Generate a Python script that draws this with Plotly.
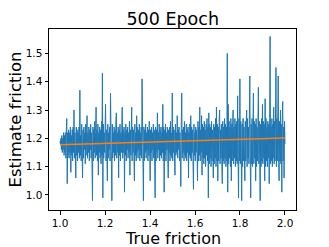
import numpy as np
import plotly.graph_objects as go

# True friction grid (evenly spaced from 1.0 to 2.0)
x_start, x_end = 1.0, 2.0

# Estimated friction values
est_friction = [
    1.19, 1.18, 1.20, 1.16, 1.21, 1.15, 1.20, 1.16, 1.22, 1.14,
    1.21, 1.15, 1.22, 1.13, 1.23, 1.27, 1.04, 1.22, 1.14, 1.23,
    1.13, 1.22, 1.15, 1.24, 1.08, 1.21, 1.14, 1.23, 1.12, 1.24,
    1.15, 1.30, 1.13, 1.22, 1.16, 1.06, 1.24, 1.14, 1.23, 1.12,
    1.22, 1.15, 1.24, 1.13, 1.37, 1.14, 1.21, 1.12, 1.25, 1.15,
    1.06, 1.23, 1.13, 1.24, 1.16, 1.22, 1.11, 1.25, 1.14, 1.23,
    1.28, 1.13, 1.22, 1.15, 1.24, 1.12, 1.23, 1.16, 1.25, 1.13,
    1.22, 1.14, 0.98, 1.24, 1.12, 1.23, 1.15, 1.26, 1.13, 1.22,
    1.31, 1.14, 1.23, 1.12, 1.25, 1.07, 1.22, 1.15, 1.24, 1.13,
    1.23, 1.11, 1.26, 1.14, 1.43, 0.99, 1.25, 1.13, 1.22, 1.15,
    1.24, 1.32, 1.12, 1.23, 1.14, 1.05, 1.25, 1.13, 1.22, 1.16,
    1.24, 1.12, 1.36, 1.14, 1.23, 0.98, 1.25, 1.13, 1.22, 1.15,
    1.24, 1.12, 1.23, 1.14, 1.26, 1.29, 1.13, 1.22, 1.15, 1.24,
    1.06, 1.23, 1.14, 1.25, 1.12, 1.22, 1.15, 1.24, 1.31, 1.13,
    1.23, 1.15, 1.24, 1.01, 1.22, 1.14, 1.25, 1.12, 1.23, 1.16,
    1.24, 1.13, 1.22, 1.15, 1.26, 1.07, 1.23, 1.14, 1.22, 1.31,
    1.12, 1.24, 1.15, 1.23, 1.13, 1.05, 1.25, 1.14, 1.22, 1.12,
    1.28, 1.15, 1.24, 1.13, 1.23, 1.16, 1.25, 1.12, 1.22, 1.14,
    1.24, 1.13, 1.41, 1.15, 1.22, 0.98, 1.24, 1.12, 1.23, 1.15,
    1.25, 1.13, 1.22, 1.16, 1.24, 1.12, 1.23, 1.14, 1.26, 1.13,
    1.05, 1.23, 1.15, 1.24, 1.12, 1.22, 1.16, 1.25, 1.13, 1.23,
    1.14, 0.99, 1.24, 1.12, 1.23, 1.15, 1.29, 1.13, 1.22, 1.16,
    1.25, 1.12, 1.23, 1.14, 1.24, 1.13, 1.22, 1.15, 1.32, 1.12,
    1.24, 1.01, 1.23, 1.14, 1.25, 1.12, 1.22, 1.16, 1.24, 1.13,
    1.06, 1.23, 1.15, 1.24, 1.12, 1.26, 1.14, 1.22, 1.13, 1.36,
    1.12, 1.24, 1.15, 1.23, 1.13, 1.07, 1.25, 1.14, 1.22, 1.15,
    1.28, 1.13, 1.23, 1.16, 1.24, 1.12, 1.22, 1.14, 1.03, 1.25,
    1.36, 1.13, 1.23, 1.15, 1.24, 1.12, 1.26, 1.14, 1.22, 1.13,
    1.25, 1.12, 1.23, 1.15, 1.24, 1.06, 1.22, 1.14, 1.25, 1.13,
    1.28, 1.12, 1.24, 1.15, 1.23, 1.13, 1.02, 1.25, 1.14, 1.22,
    1.12, 1.24, 1.15, 1.23, 1.13, 1.05, 1.26, 1.12, 1.24, 1.14,
    1.31, 1.12, 1.23, 1.15, 1.28, 1.07, 1.25, 1.13, 1.24, 1.11,
    1.26, 1.13, 1.23, 1.10, 1.25, 1.14, 1.27, 1.12, 1.24, 0.99,
    1.29, 1.11, 1.25, 1.13, 1.24, 1.10, 1.26, 1.12, 1.23, 1.14,
    1.06, 1.25, 1.11, 1.24, 1.13, 1.27, 1.10, 1.31, 1.12, 1.25,
    1.05, 1.24, 1.12, 1.26, 1.30, 1.11, 1.23, 1.13, 1.25, 1.10,
    1.04, 1.26, 1.12, 1.24, 1.11, 1.27, 1.13, 1.25, 1.10, 1.24,
    1.12, 1.50, 1.01, 1.32, 1.11, 1.26, 1.13, 1.24, 1.10, 1.27,
    1.05, 1.25, 1.12, 1.26, 1.30, 1.11, 1.24, 1.13, 1.27, 1.10,
    1.25, 1.12, 1.26, 1.11, 1.35, 1.13, 0.99, 1.27, 1.12, 1.41,
    1.11, 1.26, 1.13, 0.98, 1.25, 1.10, 1.27, 1.12, 1.24, 1.11,
    1.05, 1.26, 1.12, 1.25, 1.30, 1.10, 1.27, 1.13, 1.24, 1.11,
    1.26, 1.42, 1.12, 0.99, 1.25, 1.11, 1.27, 1.10, 1.24, 1.36,
    1.11, 1.26, 1.13, 1.25, 1.05, 1.27, 1.10, 1.24, 1.12, 1.28,
    1.38, 1.11, 1.26, 1.13, 0.98, 1.25, 1.10, 1.27, 1.12, 1.32,
    1.11, 1.26, 1.13, 1.25, 1.05, 1.34, 1.10, 1.27, 1.12, 1.24,
    1.10, 1.26, 1.13, 1.25, 1.04, 1.27, 1.56, 1.11, 1.24, 1.12,
    1.27, 1.10, 1.25, 1.13, 1.31, 1.11, 1.26, 1.12, 1.24, 1.45,
    1.10, 1.27, 1.12, 1.25, 1.42, 1.11, 1.05, 1.26, 1.12, 1.30,
    1.11, 1.25, 1.01, 1.27, 1.33, 1.12, 1.24, 1.06, 1.26, 1.18,
]
true_friction = np.linspace(x_start, x_end, len(est_friction))

# Linear fit line endpoints
fit_x = [1.0, 2.0]
fit_y = [1.177, 1.201]

x_ticks = [1.0, 1.2, 1.4, 1.6, 1.8, 2.0]
y_ticks = [1.0, 1.1, 1.2, 1.3, 1.4, 1.5]

title_text = "500 Epoch"
x_label = "True friction"
y_label = "Estimate friction"

fig = go.Figure()
fig.add_trace(go.Scatter(x=true_friction, y=est_friction, mode="lines",
                         line=dict(color="#1f77b4", width=1), showlegend=False))
fig.add_trace(go.Scatter(x=fit_x, y=fit_y, mode="lines",
                         line=dict(color="#ff7f0e", width=1.5), showlegend=False))

axis_common = dict(showline=True, linecolor="black", linewidth=1, mirror=True,
                   ticks="outside", ticklen=3.5, tickcolor="black", showgrid=False,
                   zeroline=False, automargin=False,
                   tickfont=dict(size=10.5, color="black"))

fig.update_layout(
    width=329, height=247,
    margin=dict(l=49, r=33, t=29, b=37),
    paper_bgcolor="white", plot_bgcolor="white",
    font=dict(family="DejaVu Sans", color="black"),
    title=dict(text=title_text, x=0.525, xanchor="center", y=0.925, yanchor="middle",
               font=dict(family="DejaVu Sans", size=17.5, color="black")),
    xaxis=dict(range=[0.951, 2.049], tickvals=x_ticks,
               ticktext=[f"{v:.1f}" for v in x_ticks], ticklabelstandoff=0,
               **axis_common),
    yaxis=dict(range=[0.947, 1.586], tickvals=y_ticks,
               ticktext=[f"{v:.1f}" for v in y_ticks],
               **axis_common),
    annotations=[
        dict(text=x_label, xref="paper", yref="paper", x=0.5, y=-0.156,
             xanchor="center", yanchor="middle", showarrow=False,
             font=dict(size=16, color="black")),
        dict(text=y_label, xref="paper", yref="paper", x=-0.134, y=0.5,
             xanchor="center", yanchor="middle", textangle=-90, showarrow=False,
             font=dict(size=16.5, color="black")),
    ],
)

fig.write_html("out.html", config={"displayModeBar": False},
               post_script="document.body.style.margin='0';document.body.style.overflow='hidden';")
